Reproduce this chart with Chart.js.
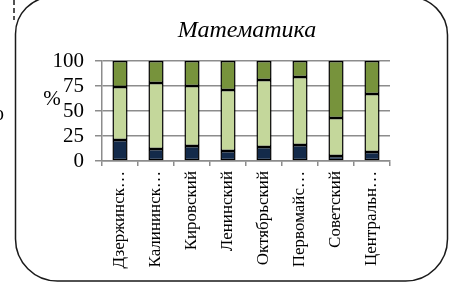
<!DOCTYPE html>
<html lang="ru">
<head>
    <meta charset="UTF-8">
    <title>Математика</title>
    <script src="https://cdn.jsdelivr.net/npm/chart.js"></script>
    <style>
        body { margin: 0; background: #fff; }
        canvas { display: block; }
    </style>
</head>
<body>
    <canvas id="mathChart" width="450" height="287"></canvas>

    <script>
        // районы
        const districts = ["Дзержинск…", "Калининск…", "Кировский", "Ленинский", "Октябрьский", "Первомайс…", "Советский", "Центральн…"];
        // доли, %
        const lowPart  = [21, 12, 15, 10, 14, 16, 5, 9];
        const midPart  = [53, 66, 60, 61, 67, 68, 38, 58];
        const highPart = [26, 22, 25, 29, 19, 16, 57, 33];
        const yTicks = [0, 25, 50, 75, 100];

        const serif = "'Liberation Serif', 'Times New Roman', serif";

        // рамка, заголовок и подпись оси
        const decor = {
            id: "decor",
            beforeDraw(chart) {
                const ctx = chart.ctx;
                ctx.save();
                ctx.fillStyle = "#fff";
                ctx.fillRect(0, 0, chart.width, chart.height);

                ctx.strokeStyle = "#1a1a1a";
                ctx.lineWidth = 1.5;
                ctx.beginPath();
                ctx.roundRect(15.5, -3, 432, 284, [37, 38, 42, 42]);
                ctx.stroke();

                ctx.setLineDash([5, 3]);
                ctx.beginPath();
                ctx.moveTo(14, 0);
                ctx.lineTo(14, 20);
                ctx.stroke();
                ctx.setLineDash([]);

                ctx.fillStyle = "#000";
                ctx.font = "20px " + serif;
                ctx.textAlign = "left";
                ctx.textBaseline = "middle";
                ctx.fillText("о", -6, 115);

                ctx.font = "italic 24px " + serif;
                ctx.textAlign = "center";
                ctx.textBaseline = "alphabetic";
                ctx.fillText("Математика", 247, 37);

                ctx.font = "21px " + serif;
                ctx.textBaseline = "middle";
                ctx.fillText("%", 52, 99);
                ctx.restore();
            }
        };

        const ctx = document.getElementById("mathChart").getContext("2d");
        new Chart(ctx, {
            type: "bar",
            data: {
                labels: districts,
                datasets: [
                    { data: lowPart,  backgroundColor: "#132a4a" },
                    { data: midPart,  backgroundColor: "#c4d79b" },
                    { data: highPart, backgroundColor: "#77933c" }
                ].map(d => Object.assign(d, {
                    borderColor: "#000",
                    borderWidth: 1.5,
                    borderSkipped: false,
                    barPercentage: 1,
                    categoryPercentage: 0.42
                }))
            },
            options: {
                responsive: false,
                animation: false,
                layout: { padding: { top: 61, right: 60, left: 0, bottom: 0 } },
                plugins: {
                    legend: { display: false },
                    tooltip: { enabled: false }
                },
                scales: {
                    x: {
                        stacked: true,
                        afterFit: s => { s.height = 126; },
                        grid: { drawOnChartArea: false, color: "#8c8c8c", lineWidth: 1.5, tickLength: 5 },
                        border: { color: "#8c8c8c", width: 1.5 },
                        ticks: {
                            minRotation: 90, maxRotation: 90, autoSkip: false,
                            padding: 5, color: "#000",
                            font: { family: serif, size: 17 }
                        }
                    },
                    y: {
                        stacked: true,
                        min: 0, max: 100,
                        afterFit: s => { s.width = 102; },
                        afterBuildTicks: s => { s.ticks = yTicks.map(v => ({ value: v })); },
                        grid: { color: "#8c8c8c", lineWidth: 1.5, tickLength: 7 },
                        border: { color: "#8c8c8c", width: 1.5 },
                        ticks: {
                            autoSkip: false,
                            padding: 11, color: "#000",
                            font: { family: serif, size: 21 }
                        }
                    }
                }
            },
            plugins: [decor]
        });
    </script>
</body>
</html>
